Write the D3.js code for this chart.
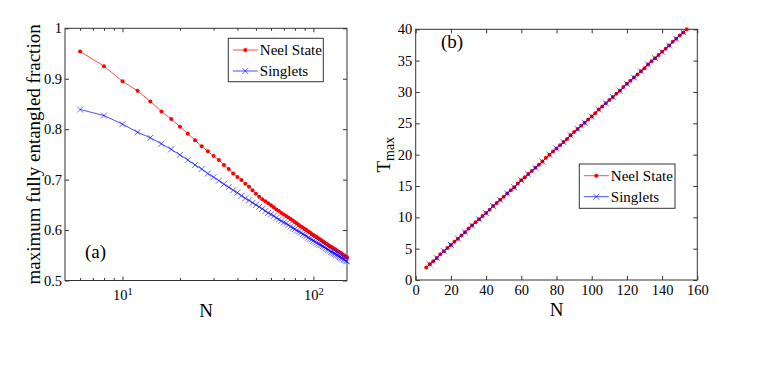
<!DOCTYPE html>
<html>
<head>
<meta charset="utf-8">
<script src="https://cdn.jsdelivr.net/npm/d3@7"></script>
<style>
  body { margin: 0; background: #fff; }
  svg text { font-family: "Liberation Serif", Tinos, "Times New Roman", Times, "DejaVu Serif", serif; fill: #000; }
  .axis path.domain { display: none; }
  .axis line { stroke: #333; }
</style>
</head>
<body>
<div id="chart"></div>
<script>
/*********************************************************/
// Data

// panel (a): N on a log axis, maximum fully entangled fraction
const leftN = [6, 8, 10, 12, 14, 16, 18, 20, 22, 24, 26, 28, 30, 32, 34, 36, 38, 40, 42, 44,
  46, 48, 50, 52, 54, 56, 58, 60, 62, 64, 66, 68, 70, 72, 74, 76, 78, 80, 82, 84,
  86, 88, 90, 92, 94, 96, 98, 100, 102, 104, 106, 108, 110, 112, 114, 116, 118, 120, 122, 124,
  126, 128, 130, 132, 134, 136, 138, 140, 142, 144, 146, 148, 150];

const leftNeel = [0.954, 0.925, 0.895, 0.876, 0.855, 0.835, 0.820, 0.805, 0.791, 0.778,
  0.766, 0.756, 0.747, 0.739, 0.729, 0.721, 0.712, 0.705, 0.699, 0.692,
  0.686, 0.679, 0.672, 0.666, 0.661, 0.657, 0.653, 0.649, 0.645, 0.641,
  0.638, 0.634, 0.631, 0.628, 0.625, 0.622, 0.619, 0.616, 0.613, 0.610,
  0.607, 0.605, 0.602, 0.600, 0.597, 0.595, 0.592, 0.590, 0.588, 0.586,
  0.584, 0.582, 0.580, 0.578, 0.576, 0.574, 0.572, 0.570, 0.568, 0.567,
  0.565, 0.563, 0.562, 0.560, 0.558, 0.557, 0.555, 0.554, 0.552, 0.550,
  0.549, 0.547, 0.546];

const leftSinglets = [0.839, 0.827, 0.810, 0.794, 0.783, 0.771, 0.760, 0.749, 0.739, 0.729,
  0.721, 0.712, 0.705, 0.698, 0.691, 0.685, 0.679, 0.674, 0.668, 0.663,
  0.659, 0.654, 0.650, 0.646, 0.642, 0.638, 0.634, 0.631, 0.628, 0.624,
  0.621, 0.618, 0.615, 0.613, 0.610, 0.607, 0.604, 0.602, 0.599, 0.597,
  0.595, 0.592, 0.590, 0.588, 0.585, 0.583, 0.581, 0.579, 0.577, 0.575,
  0.573, 0.571, 0.570, 0.568, 0.566, 0.564, 0.562, 0.561, 0.559, 0.557,
  0.556, 0.554, 0.553, 0.551, 0.550, 0.548, 0.547, 0.545, 0.544, 0.542,
  0.541, 0.539, 0.538];

// panel (b): N against T_max
const rightNeelN = [6, 8, 10, 12, 14, 16, 18, 20, 22, 24, 26, 28, 30, 32, 34, 36, 38, 40, 42, 44,
  46, 48, 50, 52, 54, 56, 58, 60, 62, 64, 66, 68, 70, 72, 74, 76, 78, 80, 82, 84,
  86, 88, 90, 92, 94, 96, 98, 100, 102, 104, 106, 108, 110, 112, 114, 116, 118, 120, 122, 124,
  126, 128, 130, 132, 134, 136, 138, 140, 142, 144, 146, 148, 150, 152, 154];

const rightNeelT = [2.0, 2.5, 3.0, 3.5, 4.1, 4.6, 5.1, 5.6, 6.1, 6.6,
  7.1, 7.6, 8.2, 8.7, 9.2, 9.7, 10.2, 10.7, 11.2, 11.8,
  12.3, 12.8, 13.3, 13.8, 14.3, 14.8, 15.4, 15.9, 16.4, 16.9,
  17.4, 17.9, 18.4, 18.9, 19.5, 20.0, 20.5, 21.0, 21.5, 22.0,
  22.5, 23.1, 23.6, 24.1, 24.6, 25.1, 25.6, 26.1, 26.6, 27.2,
  27.7, 28.2, 28.7, 29.2, 29.7, 30.2, 30.8, 31.3, 31.8, 32.3,
  32.8, 33.3, 33.8, 34.4, 34.9, 35.4, 35.9, 36.4, 36.9, 37.4,
  38.0, 38.5, 39.0, 39.5, 40.0];

const rightSingletN = [8, 12, 16, 20, 24, 28, 32, 36, 40, 44, 48, 52, 56, 60, 64, 68, 72, 76, 80,
  84, 88, 92, 96, 100, 104, 108, 112, 116, 120, 124, 128, 132, 136, 140, 144, 148, 152];

const rightSingletT = [2.5, 3.5, 4.6, 5.6, 6.6, 7.6, 8.7, 9.7, 10.7, 11.8,
  12.8, 13.8, 14.8, 15.9, 16.9, 17.9, 18.9, 20.0, 21.0, 22.0,
  23.1, 24.1, 25.1, 26.1, 27.2, 28.2, 29.2, 30.2, 31.3, 32.3,
  33.3, 34.4, 35.4, 36.4, 37.4, 38.5, 39.5];

// ticks and labels
const leftXTicks = [10, 100];
const leftXMinor = [6, 7, 8, 9, 20, 30, 40, 50, 60, 70, 80, 90];
const leftYTicks = [0.5, 0.6, 0.7, 0.8, 0.9, 1];
const rightXTicks = [0, 20, 40, 60, 80, 100, 120, 140, 160];
const rightYTicks = [0, 5, 10, 15, 20, 25, 30, 35, 40];
const seriesNames = ["Neel State", "Singlets"];

/*********************************************************/

const svgWidth = 763;
const svgHeight = 384;

const serif = '"Liberation Serif", Tinos, "Times New Roman", Times, "DejaVu Serif", serif';
const neelColor = "#ff0000";
const singletColor = "#0000ff";
const tickFont = "14.5px";

const svg = d3
  .select("#chart")
  .append("svg")
  .attr("width", svgWidth)
  .attr("height", svgHeight)
  .attr("font-family", serif);

// plot boxes of the two panels
const boxA = { left: 65, right: 347, top: 28.3, bottom: 280.5 };
const boxB = { left: 415.7, right: 697.3, top: 29.3, bottom: 280 };

/******************** Panel (a) ********************/
const xA = d3.scaleLog().domain([5, 150]).range([boxA.left, boxA.right]);
const yA = d3.scaleLinear().domain([0.5, 1]).range([boxA.bottom, boxA.top]);

drawFrame(boxA);

// bottom and top axes, major + minor inward ticks
svg.append("g")
  .attr("class", "axis")
  .attr("transform", `translate(0,${boxA.bottom})`)
  .call(d3.axisBottom(xA).tickValues(leftXMinor).tickSize(-2.5).tickFormat(""));
svg.append("g")
  .attr("class", "axis")
  .attr("transform", `translate(0,${boxA.top})`)
  .call(d3.axisTop(xA).tickValues(leftXMinor).tickSize(-2.5).tickFormat(""));
svg.append("g")
  .attr("class", "axis")
  .attr("transform", `translate(0,${boxA.top})`)
  .call(d3.axisTop(xA).tickValues(leftXTicks).tickSize(-4).tickFormat(""));

const bottomA = svg.append("g")
  .attr("class", "axis")
  .attr("transform", `translate(0,${boxA.bottom})`)
  .call(d3.axisBottom(xA).tickValues(leftXTicks).tickSize(-4).tickPadding(9).tickFormat(""));

bottomA.selectAll(".tick text")
  .attr("font-family", serif)
  .attr("font-size", tickFont)
  .each(function (d) {
    const t = d3.select(this).text("10");
    t.append("tspan")
      .attr("dy", "-0.45em")
      .attr("font-size", "10.5px")
      .text(Math.round(Math.log10(d)));
  });

svg.append("g")
  .attr("class", "axis")
  .attr("transform", `translate(${boxA.left},0)`)
  .call(d3.axisLeft(yA).tickValues(leftYTicks).tickSize(-4).tickPadding(3).tickFormat(d => d))
  .selectAll("text")
  .attr("font-family", serif)
  .attr("font-size", tickFont);

svg.append("g")
  .attr("class", "axis")
  .attr("transform", `translate(${boxA.right},0)`)
  .call(d3.axisRight(yA).tickValues(leftYTicks).tickSize(-4).tickFormat(""));

// series
drawSeries(leftN, leftNeel, xA, yA, neelColor, "dot");
drawSeries(leftN, leftSinglets, xA, yA, singletColor, "cross");

// labels
svg.append("text")
  .attr("transform", `translate(40,${(boxA.top + boxA.bottom) / 2}) rotate(-90)`)
  .attr("text-anchor", "middle")
  .attr("font-size", "19px")
  .text("maximum fully entangled fraction");

svg.append("text")
  .attr("x", (boxA.left + boxA.right) / 2)
  .attr("y", 317)
  .attr("text-anchor", "middle")
  .attr("font-size", "19px")
  .text("N");

svg.append("text")
  .attr("x", 85)
  .attr("y", 258)
  .attr("font-size", "19px")
  .text("(a)");

drawLegend(228.3, 38.3, 95, 43.4);

/******************** Panel (b) ********************/
const xB = d3.scaleLinear().domain([0, 160]).range([boxB.left, boxB.right]);
const yB = d3.scaleLinear().domain([0, 40]).range([boxB.bottom, boxB.top]);

drawFrame(boxB);

svg.append("g")
  .attr("class", "axis")
  .attr("transform", `translate(0,${boxB.bottom})`)
  .call(d3.axisBottom(xB).tickValues(rightXTicks).tickSize(-4).tickPadding(5))
  .selectAll("text")
  .attr("font-family", serif)
  .attr("font-size", tickFont);

svg.append("g")
  .attr("class", "axis")
  .attr("transform", `translate(0,${boxB.top})`)
  .call(d3.axisTop(xB).tickValues(rightXTicks).tickSize(-4).tickFormat(""));

svg.append("g")
  .attr("class", "axis")
  .attr("transform", `translate(${boxB.left},0)`)
  .call(d3.axisLeft(yB).tickValues(rightYTicks).tickSize(-4).tickPadding(3.5))
  .selectAll("text")
  .attr("font-family", serif)
  .attr("font-size", tickFont);

svg.append("g")
  .attr("class", "axis")
  .attr("transform", `translate(${boxB.right},0)`)
  .call(d3.axisRight(yB).tickValues(rightYTicks).tickSize(-4).tickFormat(""));

drawSeries(rightNeelN, rightNeelT, xB, yB, neelColor, "dot");
drawSeries(rightSingletN, rightSingletT, xB, yB, singletColor, "cross");

// T_max label
const tLabel = svg.append("text")
  .attr("transform", `translate(390,${(boxB.top + boxB.bottom) / 2}) rotate(-90)`)
  .attr("text-anchor", "middle")
  .attr("font-size", "19px")
  .text("T");
tLabel.append("tspan")
  .attr("dy", "0.3em")
  .attr("font-size", "14px")
  .text("max");

svg.append("text")
  .attr("x", (boxB.left + boxB.right) / 2)
  .attr("y", 316)
  .attr("text-anchor", "middle")
  .attr("font-size", "19px")
  .text("N");

svg.append("text")
  .attr("x", 441)
  .attr("y", 48)
  .attr("font-size", "19px")
  .text("(b)");

drawLegend(579.3, 164, 95.7, 44.3);

/******************** helpers ********************/
function drawFrame(box) {
  svg.append("rect")
    .attr("x", box.left)
    .attr("y", box.top)
    .attr("width", box.right - box.left)
    .attr("height", box.bottom - box.top)
    .attr("fill", "none")
    .attr("stroke", "#333")
    .attr("stroke-width", 1);
}

function drawSeries(xs, ys, xScale, yScale, color, marker) {
  const pts = xs.map((x, i) => [x, ys[i]]);

  svg.append("path")
    .datum(pts)
    .attr("fill", "none")
    .attr("stroke", color)
    .attr("stroke-width", 0.7)
    .attr("d", d3.line().x(d => xScale(d[0])).y(d => yScale(d[1])));

  const g = svg.append("g");
  if (marker === "dot") {
    g.selectAll("circle")
      .data(pts)
      .enter()
      .append("circle")
      .attr("cx", d => xScale(d[0]))
      .attr("cy", d => yScale(d[1]))
      .attr("r", 2)
      .attr("fill", color);
  } else {
    g.selectAll("path")
      .data(pts)
      .enter()
      .append("path")
      .attr("transform", d => `translate(${xScale(d[0])},${yScale(d[1])})`)
      .attr("d", "M-3,-3L3,3M-3,3L3,-3")
      .attr("stroke", color)
      .attr("stroke-width", 0.6)
      .attr("fill", "none");
  }
}

function drawLegend(x, y, w, h) {
  const g = svg.append("g").attr("transform", `translate(${x},${y})`);
  g.append("rect")
    .attr("width", w)
    .attr("height", h)
    .attr("fill", "#fff")
    .attr("stroke", "#333")
    .attr("stroke-width", 1);

  const colors = [neelColor, singletColor];
  seriesNames.forEach((name, i) => {
    const cy = 11.7 + i * 21;
    g.append("line")
      .attr("x1", 4.5).attr("x2", 29.5)
      .attr("y1", cy).attr("y2", cy)
      .attr("stroke", colors[i])
      .attr("stroke-width", 0.7);
    if (i === 0) {
      g.append("circle").attr("cx", 17).attr("cy", cy).attr("r", 2).attr("fill", colors[i]);
    } else {
      g.append("path")
        .attr("transform", `translate(17,${cy})`)
        .attr("d", "M-3,-3L3,3M-3,3L3,-3")
        .attr("stroke", colors[i])
        .attr("stroke-width", 0.6);
    }
    g.append("text")
      .attr("x", 31.5)
      .attr("y", cy)
      .attr("dy", "0.35em")
      .attr("font-size", "15px")
      .text(name);
  });
}
</script>
</body>
</html>
